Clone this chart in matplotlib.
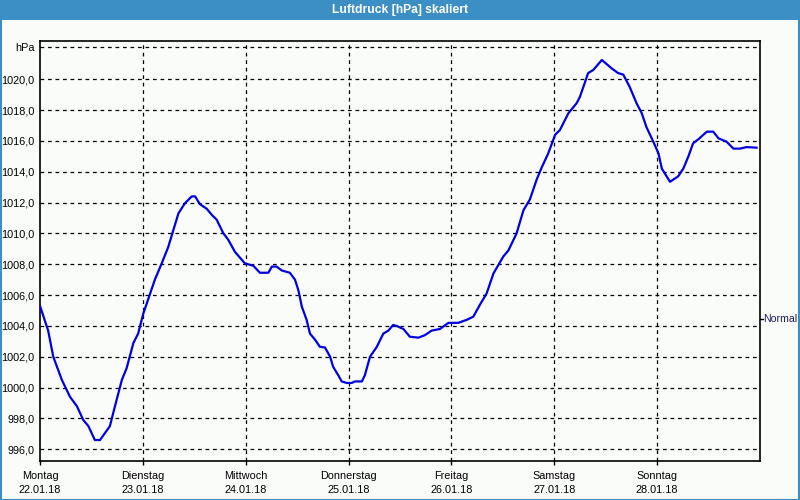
import matplotlib
matplotlib.use("Agg")
import matplotlib.pyplot as plt
from matplotlib.patches import Rectangle
import matplotlib.transforms as mtransforms

# ---- data (hours since Monday 22.01.18 00:00, pressure in hPa) ----
hours = [0, 1.9, 3.1, 5.1, 7.0, 8.6, 10.1, 11.3, 12.8, 14.0, 16.3, 17.5, 19.1, 20.2,
         21.8, 22.9, 24.1, 25.7, 26.8, 28.4, 29.9, 31.1, 32.3, 33.8, 35.4, 36.2, 37.3,
         38.9, 40.1, 41.2, 42.8, 43.9, 45.5, 47.8, 49.8, 51.3, 53.3, 54.1, 55.2, 56.4,
         58.3, 59.5, 60.3, 61.1, 62.2, 63.0, 64.2, 65.3, 66.5, 67.7, 68.4, 69.6, 70.4,
         71.6, 72.7, 73.5, 75.1, 75.8, 77.0, 78.6, 80.1, 81.3, 82.4, 83.2, 84.8, 86.3,
         88.3, 89.8, 91.4, 93.3, 95.3, 97.6, 99.6, 101.1, 102.7, 104.2, 105.8, 108.1,
         109.3, 111.2, 112.8, 114.3, 115.9, 117.1, 118.6, 120.2, 121.3, 123.3, 125.2,
         126.0, 127.9, 129.1, 131.1, 133.4, 134.9, 136.1, 137.6, 139.2, 140.4, 141.5,
         143.1, 144.3, 145.1, 147.0, 148.9, 150.1, 151.3, 152.4, 153.6, 155.6, 157.1,
         158.3, 160.2, 161.8, 163.3, 164.9, 167.2]
pressure = [1005.3, 1003.7, 1002.0, 1000.5, 999.4, 998.8, 997.9, 997.5, 996.6, 996.6,
            997.5, 998.8, 1000.5, 1001.25, 1002.9, 1003.5, 1004.8, 1006.1, 1007.0,
            1008.06, 1009.1, 1010.2, 1011.3, 1011.95, 1012.4, 1012.4, 1011.9, 1011.6,
            1011.2, 1010.9, 1010.0, 1009.6, 1008.8, 1008.06, 1007.9, 1007.45, 1007.45,
            1007.85, 1007.85, 1007.6, 1007.45, 1007.0, 1006.3, 1005.25, 1004.4, 1003.5,
            1003.1, 1002.65, 1002.6, 1002.0, 1001.35, 1000.8, 1000.4, 1000.3, 1000.3,
            1000.4, 1000.4, 1000.8, 1002.0, 1002.65, 1003.5, 1003.7, 1004.06, 1004.0,
            1003.8, 1003.3, 1003.24, 1003.4, 1003.7, 1003.8, 1004.2, 1004.2, 1004.4,
            1004.6, 1005.4, 1006.1, 1007.4, 1008.5, 1008.9, 1010.0, 1011.5, 1012.2,
            1013.5, 1014.3, 1015.2, 1016.4, 1016.7, 1017.8, 1018.44, 1018.87, 1020.4,
            1020.6, 1021.25, 1020.7, 1020.4, 1020.3, 1019.5, 1018.44, 1017.8, 1016.9,
            1015.95, 1015.2, 1014.2, 1013.35, 1013.7, 1014.2, 1015.0, 1015.85, 1016.1,
            1016.6, 1016.6, 1016.17, 1015.95, 1015.5, 1015.5, 1015.6, 1015.56]

day_names = ["Montag", "Dienstag", "Mittwoch", "Donnerstag", "Freitag", "Samstag", "Sonntag"]
day_dates = ["22.01.18", "23.01.18", "24.01.18", "25.01.18", "26.01.18", "27.01.18", "28.01.18"]
y_ticks = [996, 998, 1000, 1002, 1004, 1006, 1008, 1010, 1012, 1014, 1016, 1018, 1020]
unit_level = 1022.1
normal_level = 1004.45
title = "Luftdruck [hPa] skaliert"

# ---- styling ----
bg = "#fafcfa"
bar = "#3b8fc4"
plt.rcParams["font.family"] = ["Liberation Sans", "DejaVu Sans"]
fs = 7.8

fig = plt.figure(figsize=(8, 5), dpi=100, facecolor=bg)

# title bar and border
fig.patches.append(Rectangle((0, 1 - 20 / 500), 1, 20 / 500, transform=fig.transFigure,
                             facecolor=bar, edgecolor="none", zorder=0))
fig.patches.append(Rectangle((0.5 / 800, 0.5 / 500), 1 - 1.5 / 800, 1 - 1.5 / 500,
                             transform=fig.transFigure, facecolor="none",
                             edgecolor=bar, linewidth=1.5, zorder=0))
fig.text(0.5, 1 - 10.5 / 500, title, color="white", fontsize=8.7, fontweight="bold",
         ha="center", va="center")

ax = fig.add_axes([40 / 800, 1 - 461 / 500, 720 / 800, 420 / 500])
ax.set_facecolor(bg)

x_days = [h / 24.0 for h in hours]
ax.plot(x_days, pressure, color="#0000e0", linewidth=1.6, zorder=3)

ax.set_xlim(0, 7)
ax.set_ylim(995.24, 1022.48)

# y ticks
ax.set_yticks(y_ticks + [unit_level])
ax.set_yticklabels([f"{v:.1f}".replace(".", ",") for v in y_ticks] + ["hPa"])
ax.tick_params(axis="y", length=0, pad=4, labelsize=fs, colors="black")

# x ticks
ax.set_xticks(range(len(day_names)))
ax.set_xticklabels([f"{n}\n{d}" for n, d in zip(day_names, day_dates)],
                   linespacing=1.5)
ax.tick_params(axis="x", length=3, width=1, pad=4.5, labelsize=fs, direction="out")

# grid
for v in y_ticks + [unit_level]:
    ax.axhline(v, color="black", linewidth=0.9, linestyle=(0, (3, 3)), zorder=1)
for d in range(1, 7):
    ax.axvline(d, color="black", linewidth=0.9, linestyle=(0, (3, 3)), zorder=1)

for s in ax.spines.values():
    s.set_linewidth(1.2)
    s.set_color("black")

# "Normal" marker on the right
trans = mtransforms.blended_transform_factory(ax.transAxes, ax.transData)
ax.plot([1.0, 1.004], [normal_level, normal_level], color="black", linewidth=1,
        transform=trans, clip_on=False)
ax.text(1.005, normal_level, "Normal", transform=trans, fontsize=7.6,
        color="#1c1c5c", ha="left", va="center")

fig.savefig("out.png", dpi=100, facecolor=bg)
